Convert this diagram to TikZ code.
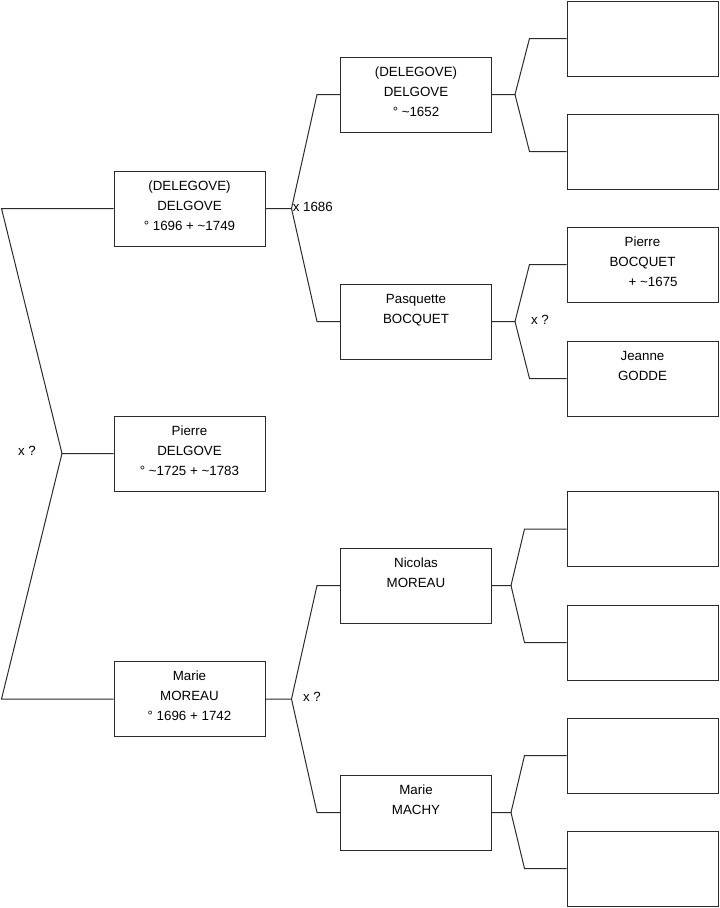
\documentclass[tikz,border=0pt]{standalone}
\usepackage{fontspec}
\setmainfont{Liberation Sans}
\usetikzlibrary{positioning,calc}
\definecolor{treeLine}{HTML}{2B2B2B}
\tikzset{
  person/.style={
    draw=treeLine, line width=0.75pt, minimum width=113.25pt, minimum height=56.25pt,
    inner sep=0pt, align=center, font=\fontsize{10}{15}\selectfont
  },
  branch/.style={draw=treeLine, line width=0.75pt},
  union/.style={font=\fontsize{10}{15}\selectfont, inner sep=0pt}
}

\begin{document}
\begin{tikzpicture}[x=0.75pt, y=-0.75pt]
  \useasboundingbox (0,0) rectangle (719,908);

  \node[person] (p) at (189.5,453.5) {Pierre\\DELGOVE\\° \textasciitilde1725 + \textasciitilde1783\strut};
  \node[person] (f) at (189.5,208.5) {(DELEGOVE)\\DELGOVE\\° 1696 + \textasciitilde1749\strut};
  \node[person] (m) at (189.5,699) {Marie\\MOREAU\\° 1696 + 1742\strut};

  \node[person] (ff) at (416,94.5) {(DELEGOVE)\\DELGOVE\\° \textasciitilde1652\strut};
  \node[person] (fm) at (416,321.5) {Pasquette\\BOCQUET\\\strut};
  \node[person] (mf) at (416,585.5) {Nicolas\\MOREAU\\\strut};
  \node[person] (mm) at (416,812.5) {Marie\\MACHY\\\strut};

  \node[person] (fff) at (642.5,38.5) {};
  \node[person] (ffm) at (642.5,151.5) {};
  \node[person] (fmf) at (642.5,264.5) {Pierre\\BOCQUET\\\hspace*{16pt}+ \textasciitilde1675\strut};
  \node[person] (fmm) at (642.5,378.5) {Jeanne\\GODDE\\\strut};
  \node[person] (mff) at (642.5,529) {};
  \node[person] (mfm) at (642.5,642.5) {};
  \node[person] (mmf) at (642.5,755.5) {};
  \node[person] (mmm) at (642.5,868.5) {};

  \coordinate (pv) at (62,453.5);
  \coordinate (fv) at (291.5,208.5);
  \coordinate (mv) at (291.5,699);
  \coordinate (ffv) at (515,94.5);
  \coordinate (fmv) at (515,321.5);
  \coordinate (mfv) at (511,585.5);
  \coordinate (mmv) at (511,812.5);

  \draw[branch] (f.west) -- ++(-112,0) -- (pv) -- (p.west);
  \draw[branch] (m.west) -- ++(-112,0) -- (pv);

  \draw[branch] (ff.west) -- ++(-23,0) -- (fv) -- (f.east);
  \draw[branch] (fm.west) -- ++(-23,0) -- (fv);
  \draw[branch] (mf.west) -- ++(-23,0) -- (mv) -- (m.east);
  \draw[branch] (mm.west) -- ++(-23,0) -- (mv);

  \draw[branch] (fff.west) -- ++(-37,0) -- (ffv) -- (ff.east);
  \draw[branch] (ffm.west) -- ++(-37,0) -- (ffv);
  \draw[branch] (fmf.west) -- ++(-37,0) -- (fmv) -- (fm.east);
  \draw[branch] (fmm.west) -- ++(-37,0) -- (fmv);
  \draw[branch] (mff.west) -- ++(-42,0) -- (mfv) -- (mf.east);
  \draw[branch] (mfm.west) -- ++(-42,0) -- (mfv);
  \draw[branch] (mmf.west) -- ++(-42,0) -- (mmv) -- (mm.east);
  \draw[branch] (mmm.west) -- ++(-42,0) -- (mmv);

  \node[union] (pu) at (27,451) {x ?};
  \node[union, anchor=west] (fu) at (292.5,207) {x 1686};
  \node[union] (mu) at (312,697) {x ?};
  \node[union] (fmu) at (540,320) {x ?};
\end{tikzpicture}
\end{document}
